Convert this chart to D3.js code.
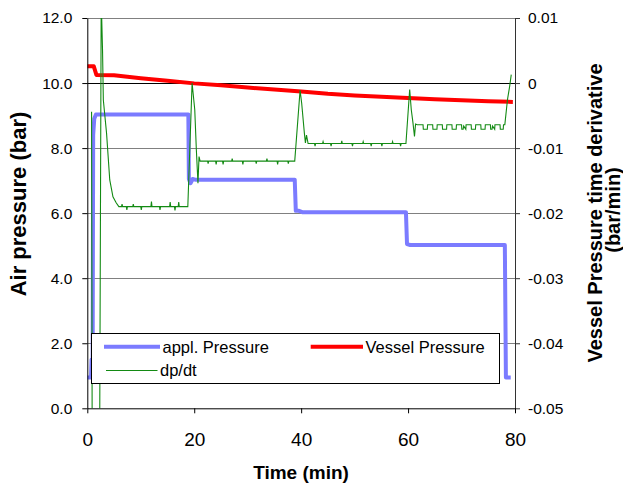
<!DOCTYPE html>
<html><head><meta charset="utf-8">
<script src="https://cdn.jsdelivr.net/npm/d3@7"></script>
<style>
html,body{margin:0;padding:0;background:#fff;}
svg{display:block;font-family:"Liberation Sans",Arial,sans-serif;}
</style></head>
<body>
<svg id="chart" width="623" height="486"></svg>
<script>
// ---------- DATA ----------
const xTicks = [0, 20, 40, 60, 80];
const leftTicks = [0, 2, 4, 6, 8, 10, 12];
const rightTicks = [-0.05, -0.04, -0.03, -0.02, -0.01, 0, 0.01];

const applTime  = [0, 0.7, 0.8, 1.0, 1.1, 1.3, 1.6, 18.9, 19.0, 19.3, 19.7, 20.2, 38.8, 39.0, 39.6, 40.2, 59.6, 59.8, 60.4, 78.1, 78.3, 79.2];
const applValue = [0.95, 0.95, 1.5, 1.5, 8.4, 8.9, 9.03, 9.03, 7.05, 6.92, 7.05, 7.03, 7.03, 6.07, 6.07, 6.03, 6.03, 5.05, 5.02, 5.02, 0.95, 0.95];

const vesselTime  = [0, 1.2, 1.7, 5, 10, 15, 20, 25, 30, 35, 40, 45, 50, 55, 60, 65, 70, 75, 79.6];
const vesselValue = [10.52, 10.52, 10.25, 10.24, 10.15, 10.07, 9.99, 9.93, 9.86, 9.8, 9.74, 9.67, 9.62, 9.58, 9.54, 9.5, 9.47, 9.44, 9.42];

const dpTime = [0.8, 0.95, 2.25, 2.6, 2.85, 3.0, 3.6, 4.2, 4.8, 5.4, 5.9,
  6.4, 6.5, 6.6, 7.3, 7.4, 7.5, 8.5, 8.6, 8.7, 10.0, 10.1, 10.2, 11.9, 12.0, 12.1,
  13.5, 13.6, 13.7, 15.4, 15.5, 15.6, 16.3, 16.4, 16.5, 17.0, 17.1, 17.2, 18.8,
  19.6, 20.1, 20.4, 20.7, 20.9, 21.1,
  22.5, 22.6, 22.7, 24.0, 24.1, 24.2, 25.3, 25.4, 25.5, 27.0, 27.1, 27.2, 29.0, 29.1, 29.2,
  31.5, 31.6, 31.7, 33.5, 33.6, 33.7, 35.5, 35.6, 35.7, 37.5, 37.6, 37.7, 38.8,
  39.8, 40.1, 40.6, 40.8, 41.0, 41.3,
  42.5, 42.6, 42.7, 44.0, 44.1, 44.2, 45.5, 45.6, 45.7, 47.5, 47.6, 47.7, 49.5, 49.6, 49.7,
  51.5, 51.6, 51.7, 53.0, 53.1, 53.2, 55.0, 55.1, 55.2, 57.0, 57.1, 57.2, 58.5, 58.6, 58.7, 59.6,
  60.3, 60.6, 60.9, 61.2, 61.4, 61.7,
  62.8, 62.85, 63.6, 63.65, 64.6, 64.65, 65.4, 65.45, 66.4, 66.45, 67.2, 67.25,
  68.2, 68.25, 69.0, 69.05, 70.0, 70.05, 70.3, 70.4, 70.8, 70.85, 71.8, 71.85, 72.6, 72.65,
  73.6, 73.65, 74.4, 74.45, 75.4, 75.45, 75.7, 75.8, 76.2, 76.25, 77.2, 77.25, 77.8, 77.85,
  78.1, 78.6, 79.0, 79.3];
const dpValue = [-0.0044, -0.07, -0.07, 0.013, 0.005, -0.0026, -0.0077, -0.0149, -0.0175, -0.0184, -0.0190,
  -0.0190, -0.0186, -0.0190, -0.0190, -0.0195, -0.0190, -0.0190, -0.0186, -0.0190, -0.0190, -0.0195, -0.0190, -0.0190, -0.0182, -0.0190,
  -0.0190, -0.0195, -0.0190, -0.0190, -0.0183, -0.0190, -0.0190, -0.0196, -0.0190, -0.0190, -0.0183, -0.0190, -0.0190,
  0.0, -0.0041, -0.0103, -0.0154, -0.0113, -0.0120,
  -0.0120, -0.0124, -0.0120, -0.0120, -0.0125, -0.0120, -0.0120, -0.0125, -0.0120, -0.0120, -0.0116, -0.0120, -0.0120, -0.0125, -0.0120,
  -0.0120, -0.0124, -0.0120, -0.0120, -0.0116, -0.0120, -0.0120, -0.0125, -0.0120, -0.0120, -0.0124, -0.0120, -0.0120,
  -0.0011, -0.0031, -0.0077, -0.0092, -0.0080, -0.0093,
  -0.0093, -0.0097, -0.0093, -0.0093, -0.0090, -0.0093, -0.0093, -0.0097, -0.0093, -0.0093, -0.0089, -0.0093, -0.0093, -0.0097, -0.0093,
  -0.0093, -0.0090, -0.0093, -0.0093, -0.0097, -0.0093, -0.0093, -0.0097, -0.0093, -0.0093, -0.0090, -0.0093, -0.0093, -0.0097, -0.0093, -0.0093,
  -0.0010, -0.0041, -0.0060, -0.0082, -0.0063, -0.0064,
  -0.0064, -0.0071, -0.0071, -0.0064, -0.0064, -0.0071, -0.0071, -0.0064, -0.0064, -0.0071, -0.0071, -0.0064,
  -0.0064, -0.0071, -0.0071, -0.0064, -0.0064, -0.0071, -0.0071, -0.0066, -0.0071, -0.0064, -0.0064, -0.0071, -0.0071, -0.0064,
  -0.0064, -0.0071, -0.0071, -0.0064, -0.0064, -0.0071, -0.0071, -0.0066, -0.0071, -0.0064, -0.0064, -0.0071, -0.0071, -0.0064,
  -0.0064, -0.0025, -0.0005, 0.0013];

const seriesNames = ["appl. Pressure", "Vessel Pressure", "dp/dt"];
const colors = {appl: "#7b7bff", vessel: "#ff0000", dp: "#138a13"};

// ---------- LAYOUT ----------
const L = 87.3, R = 515, T = 18, B = 408.3;
const svg = d3.select("#chart");
const x = d3.scaleLinear().domain([0, 80]).range([L, R]);
const yL = d3.scaleLinear().domain([0, 12]).range([B, T]);
const yR = d3.scaleLinear().domain([-0.05, 0.01]).range([B, T]);

svg.append("rect").attr("width", 623).attr("height", 486).attr("fill", "#fff");

// gridlines
svg.append("g").selectAll("line").data(leftTicks.filter(d => d !== 0)).join("line")
  .attr("x1", L).attr("x2", R)
  .attr("y1", d => Math.round(yL(d)) + 0.5).attr("y2", d => Math.round(yL(d)) + 0.5)
  .attr("stroke", d => d === 10 ? "#000" : "#808080").attr("stroke-width", 1);

svg.append("defs").append("clipPath").attr("id", "clip")
  .append("rect").attr("x", L).attr("y", T).attr("width", R - L).attr("height", B - T);

const plot = svg.append("g").attr("clip-path", "url(#clip)");

const applData = applTime.map((t, i) => [t, applValue[i]]);
const vesselData = vesselTime.map((t, i) => [t, vesselValue[i]]);
const dpData = dpTime.map((t, i) => [t, dpValue[i]]);

plot.append("path").datum(applData)
  .attr("d", d3.line().x(d => x(d[0])).y(d => yL(d[1])))
  .attr("fill", "none").attr("stroke", colors.appl).attr("stroke-width", 4).attr("stroke-linejoin", "round");
plot.append("path").datum(vesselData)
  .attr("d", d3.line().x(d => x(d[0])).y(d => yL(d[1])))
  .attr("fill", "none").attr("stroke", colors.vessel).attr("stroke-width", 4).attr("stroke-linejoin", "round");
plot.append("path").datum(dpData)
  .attr("d", d3.line().x(d => x(d[0])).y(d => yR(d[1])))
  .attr("fill", "none").attr("stroke", colors.dp).attr("stroke-width", 1.1);

// axes
const fmtL = d3.format(".1f");
const fmtR = d => d === 0 ? "0" : d.toFixed(2);

const gL = svg.append("g").attr("transform", `translate(${L},0)`)
  .call(d3.axisLeft(yL).tickValues(leftTicks).tickFormat(fmtL).tickSize(5).tickSizeOuter(0).tickPadding(10));
const gR = svg.append("g").attr("transform", `translate(${R},0)`)
  .call(d3.axisRight(yR).tickValues(rightTicks).tickFormat(fmtR).tickSize(5).tickSizeOuter(0).tickPadding(8));
const gX = svg.append("g").attr("transform", `translate(0,${B})`)
  .call(d3.axisBottom(x).tickValues(xTicks).tickFormat(d3.format("d")).tickSize(5).tickSizeOuter(0).tickPadding(19));

[gL, gR].forEach(g => g.selectAll("text").attr("font-size", 15.5).attr("fill", "#000").attr("font-family", "Liberation Sans, Arial, sans-serif"));
gX.selectAll("text").attr("font-size", 19).attr("fill", "#000").attr("font-family", "Liberation Sans, Arial, sans-serif");
gL.select(".domain").attr("stroke", "#000");
gR.select(".domain").attr("stroke", "#333");
gX.select(".domain").attr("stroke", "#000");
gR.selectAll(".tick line").attr("stroke", "#333");

// axis titles
svg.append("text").attr("x", 301).attr("y", 479).attr("text-anchor", "middle")
  .attr("font-size", 19).attr("font-weight", "bold").text("Time (min)");
svg.append("text").attr("transform", "translate(26,204) rotate(-90)").attr("text-anchor", "middle")
  .attr("font-size", 22).attr("font-weight", "bold").text("Air pressure (bar)");
svg.append("text").attr("transform", "translate(602,213) rotate(-90)").attr("text-anchor", "middle")
  .attr("font-size", 20).attr("font-weight", "bold").text("Vessel Pressure time derivative");
svg.append("text").attr("transform", "translate(619.5,210) rotate(-90)").attr("text-anchor", "middle")
  .attr("font-size", 20).attr("font-weight", "bold").text("(bar/min)");

// legend
const lg = svg.append("g");
lg.append("rect").attr("x", 91.5).attr("y", 333.5).attr("width", 408).attr("height", 50)
  .attr("fill", "#fff").attr("stroke", "#000").attr("stroke-width", 1);
const legendItems = [
  {name: seriesNames[0], color: colors.appl, w: 4, x1: 104, x2: 160, y: 346.7},
  {name: seriesNames[1], color: colors.vessel, w: 4, x1: 310.7, x2: 363, y: 346.7},
  {name: seriesNames[2], color: colors.dp, w: 1.1, x1: 106, x2: 157.5, y: 370.5}
];
legendItems.forEach(it => {
  lg.append("line").attr("x1", it.x1).attr("x2", it.x2).attr("y1", it.y).attr("y2", it.y)
    .attr("stroke", it.color).attr("stroke-width", it.w);
  lg.append("text").attr("x", it.x2 + 2.5).attr("y", it.y + 5.8)
    .attr("font-size", 16.5).attr("fill", "#000").text(it.name);
});
</script>
</body></html>
